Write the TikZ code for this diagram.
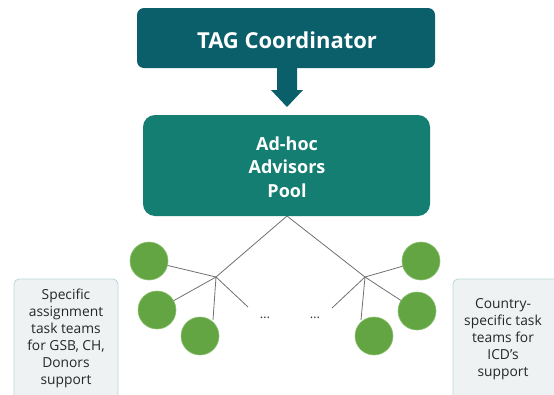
\documentclass[tikz,border=0pt]{standalone}
\usepackage{fontspec}
\setmainfont{Open Sans}
\usetikzlibrary{arrows.meta}
\definecolor{tagc}{HTML}{0B5F6B}
\definecolor{poolc}{HTML}{137E71}
\definecolor{greenc}{HTML}{63A543}
\definecolor{greenb}{HTML}{8BC26E}
\definecolor{boxfill}{HTML}{EEF2F2}
\definecolor{boxdraw}{HTML}{B8D6D6}
\definecolor{linec}{HTML}{707070}
\tikzset{
  topbox/.style={fill=tagc, rounded corners=7pt},
  poolbox/.style={fill=poolc, rounded corners=12pt},
  team/.style={circle, fill=greenc, draw=greenb, line width=0.6pt, minimum size=38pt, inner sep=0pt},
  infobox/.style={fill=boxfill, draw=boxdraw, line width=0.8pt, rounded corners=5pt},
  infotext/.style={font=\fontsize{13.8}{17}\selectfont, align=center, text=black!85},
  conn/.style={draw=linec, line width=0.8pt},
  dots/.style={font=\fontsize{13}{15}\selectfont, text=black!80}
}
\begin{document}
\begin{tikzpicture}[x=1pt,y=-1pt]
\useasboundingbox (0,0) rectangle (554,394);
% top box
\path[topbox] (137,8) rectangle (435,68);
\node[text=white, font=\bfseries\fontsize{22}{26}\selectfont] (tag) at (287,40) {TAG Coordinator};
% arrow
\fill[tagc] (277,68) -- (297,68) -- (297,90) -- (303,90) -- (287,107) -- (271,90) -- (277,90) -- cycle;
% pool box
\path[poolbox] (143,115) rectangle (430,216);
\node[text=white, font=\bfseries\fontsize{18}{23.5}\selectfont, align=center] (pool) at (287,167) {Ad-hoc\\Advisors\\Pool};
% info boxes
\path[infobox] (14,279) rectangle (118,400);
\path[infobox] (453,279) rectangle (570,400);
\node[infotext] (ltxt) at (66,338.5) {Specific\\assignment\\task teams\\for GSB, CH,\\Donors\\support};
\node[infotext] (rtxt) at (503,339) {Country-\\specific task\\teams for\\ICD’s\\support};
% tree
\coordinate (apex) at (287,216);
\coordinate (lj) at (216,277);
\coordinate (rj) at (365,277);
\coordinate (lend) at (248,307);
\coordinate (rend) at (332,308);
\node[team] (c1) at (149,261) {};
\node[team] (c2) at (157,310) {};
\node[team] (c3) at (200,336) {};
\node[team] (c4) at (421,261) {};
\node[team] (c5) at (417,311) {};
\node[team] (c6) at (374,336) {};
\draw[conn] (lj) -- (apex) -- (rj);
\draw[conn] (lj) -- (c1);
\draw[conn] (lj) -- (c2);
\draw[conn] (lj) -- (213,320);
\draw[conn] (lj) -- (lend);
\draw[conn] (rj) -- (c4);
\draw[conn] (rj) -- (c5);
\draw[conn] (rj) -- (361,320);
\draw[conn] (rj) -- (rend);
\node[dots] (d1) at (265,318) {\dots};
\node[dots] (d2) at (315,318) {\dots};
\end{tikzpicture}
\end{document}
